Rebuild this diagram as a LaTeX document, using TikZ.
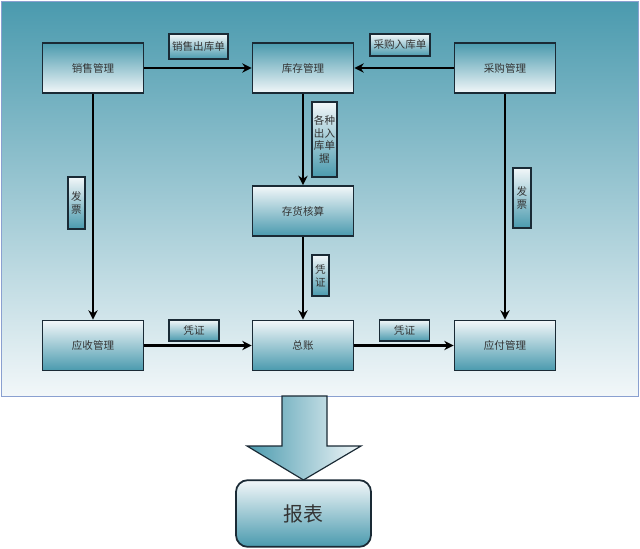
\documentclass[tikz,border=0pt]{standalone}
\usepackage{fontspec}
\setmainfont{Noto Sans CJK SC}
\usetikzlibrary{arrows.meta}
\definecolor{teal0}{HTML}{4A9AAE}
\definecolor{pale}{HTML}{F2F7F9}
\definecolor{edge}{HTML}{1A2A35}
\definecolor{frame}{HTML}{8AA0D0}
\definecolor{ink}{HTML}{333333}
\tikzset{
  unit/.style={draw=edge,line width=1.5pt,minimum width=3.03cm,minimum height=1.5cm,
    text=ink,font=\fontsize{9}{10}\selectfont},
  upbox/.style={unit,top color=teal0,bottom color=pale},
  downbox/.style={unit,top color=pale,bottom color=teal0},
  tag/.style={draw=edge,line width=1.3pt,top color=pale,bottom color=teal0,text=ink,
    font=\fontsize{9}{11}\selectfont,inner sep=0pt,align=center},
  flow/.style={line width=1.8pt,-{Stealth[length=8pt,width=8pt]}}
}
\begin{document}
\begin{tikzpicture}[x=0.03cm,y=-0.03cm]
\useasboundingbox (0,0) rectangle (640,548);
% panel
\draw[frame,line width=0.8pt,top color=teal0,bottom color=pale] (1,1) rectangle (638,396);
% modules
\node[upbox] (sales) at (93,68) {销售管理};
\node[upbox] (stock) at (303,68) {库存管理};
\node[upbox] (purchase) at (505,68) {采购管理};
\node[downbox] (costing) at (303,211) {存货核算};
\node[downbox] (receivable) at (93,345.5) {应收管理};
\node[downbox] (ledger) at (303,345.5) {总账};
\node[downbox] (payable) at (505,345.5) {应付管理};
% flows
\draw[flow] (sales) -- (stock);
\draw[flow] (purchase) -- (stock);
\draw[flow] (stock) -- (costing);
\draw[flow] (costing) -- (ledger);
\draw[flow] (sales) -- (receivable);
\draw[flow] (purchase) -- (payable);
\draw[flow] (receivable) -- (ledger);
\draw[flow] (ledger) -- (payable);
% labels
\node[tag,minimum width=1.77cm,minimum height=0.75cm] (outlbl) at (198.5,46.5) {销售出库单};
\node[tag,minimum width=1.8cm,minimum height=0.66cm] (inlbl) at (400,45) {采购入库单};
\node[tag,minimum width=0.75cm,minimum height=2.25cm] (billlbl) at (324.5,139.5) {各种\\出入\\库单\\据};
\node[tag,minimum width=0.51cm,minimum height=1.56cm] (invl) at (76.5,203) {发\\票};
\node[tag,minimum width=0.54cm,minimum height=1.8cm] (invr) at (522,198) {发\\票};
\node[tag,minimum width=0.51cm,minimum height=1.23cm] (vchv) at (320.5,275.5) {凭\\证};
\node[tag,minimum width=1.5cm,minimum height=0.63cm] (vchl) at (194,330.5) {凭证};
\node[tag,minimum width=1.5cm,minimum height=0.63cm] (vchr) at (404.5,330.5) {凭证};
% output
\draw[edge,line width=1pt,left color=teal0,right color=pale]
  (282,396) -- (327,396) -- (327,446) -- (361,446) -- (303.5,480)
  -- (247,446) -- (282,446) -- cycle;
\node[draw=edge,line width=1.5pt,rounded corners=10pt,top color=pale,bottom color=teal0,
  minimum width=4.05cm,minimum height=2cm,text=ink,font=\fontsize{17}{18}\selectfont]
  (report) at (303.5,513.5) {报表};
\end{tikzpicture}
\end{document}
